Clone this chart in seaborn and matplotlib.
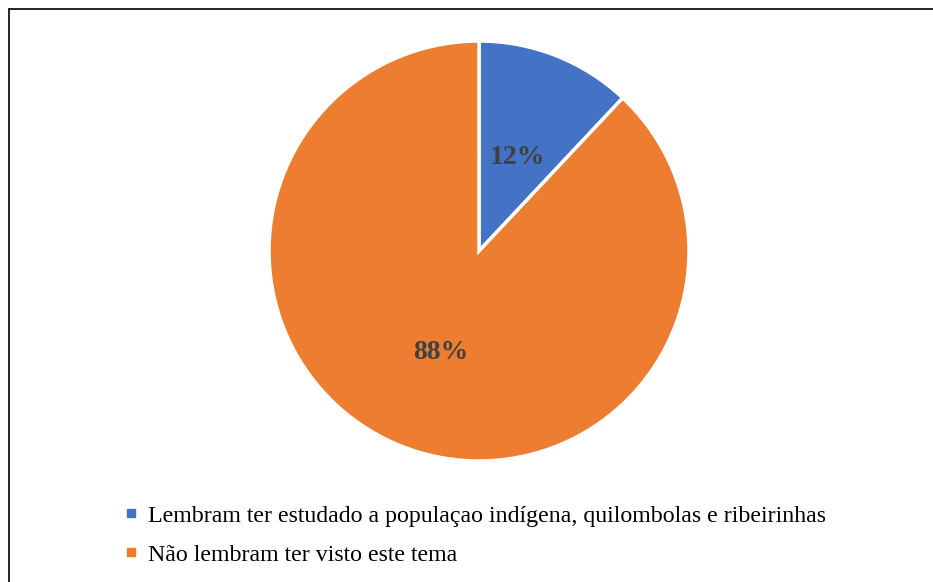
import matplotlib
matplotlib.use("Agg")
import matplotlib.pyplot as plt
from matplotlib.lines import Line2D
import numpy as np
import seaborn as sns

categories = ["Lembram ter estudado a populaçao indígena, quilombolas e ribeirinhas",
              "Não lembram ter visto este tema"]
values = [12, 88]
pct_labels = ["12%", "88%"]
colors = ["#4472C4", "#ED7D31"]

sns.set_theme(style="white")
plt.rcParams['font.family'] = ['Liberation Serif', 'DejaVu Serif']
plt.rcParams['text.color'] = 'black'

W, H = 933, 582
fig = plt.figure(figsize=(W / 100, H / 100), dpi=100)

# frame line (top and left visible)
fig.add_artist(Line2D([9 / W, 9 / W], [0, 1 - 9 / H], transform=fig.transFigure, color="black", lw=1.2))
fig.add_artist(Line2D([9 / W, 1], [1 - 9 / H, 1 - 9 / H], transform=fig.transFigure, color="black", lw=1.2))

cx, cy, r = 479, 251, 210
ax = fig.add_axes([(cx - r) / W, 1 - (cy + r) / H, 2 * r / W, 2 * r / H])
wedges, _ = ax.pie(values, colors=colors, startangle=90, counterclock=False,
                   wedgeprops=dict(edgecolor="white", linewidth=2.5))
for w, lab in zip(wedges, pct_labels):
    ang = np.deg2rad((w.theta1 + w.theta2) / 2)
    ax.text(0.5 * np.cos(ang), 0.5 * np.sin(ang) - 0.02, lab, ha="center", va="center",
            fontsize=20, fontweight="bold", color="#404040")
ax.set_xlim(-1, 1)
ax.set_ylim(-1, 1)
ax.set_aspect("equal")
ax.axis("off")

handles = [Line2D([0], [0], marker="s", linestyle="none", markersize=6,
                  markerfacecolor=c, markeredgecolor=c) for c in colors]
fig.legend(handles, categories, loc="upper left",
           bbox_to_anchor=(124 / W, 1 - 505 / H), frameon=False,
           fontsize=17.2, handlelength=0.6, handletextpad=0.4, labelspacing=0.72,
           borderaxespad=0, borderpad=0, labelcolor="black")

fig.savefig("out.png", dpi=100)
